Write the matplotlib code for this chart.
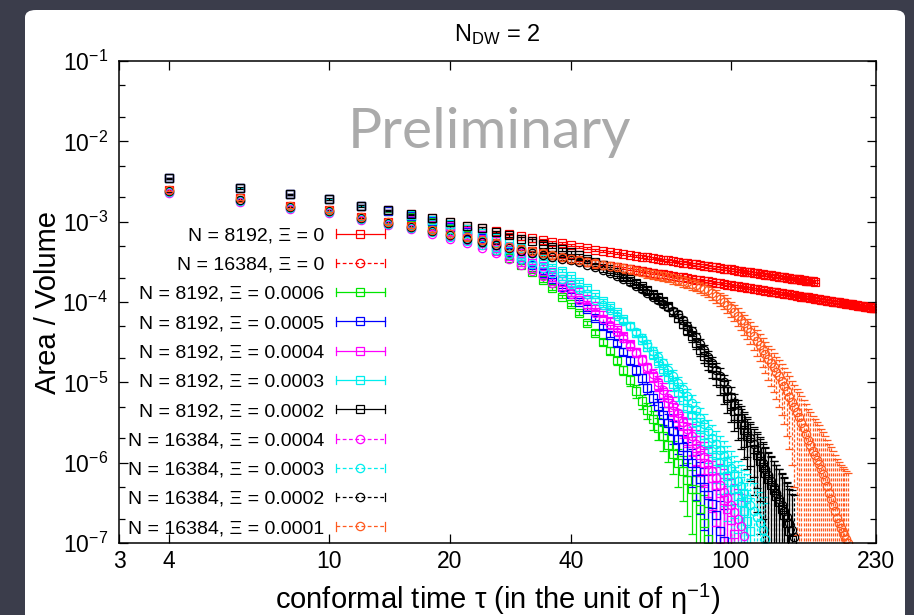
import numpy as np
import matplotlib
matplotlib.use("Agg")
import matplotlib.pyplot as plt
from matplotlib.lines import Line2D
from matplotlib.legend_handler import HandlerBase
from matplotlib.patches import FancyBboxPatch
from matplotlib.ticker import (FixedLocator, FixedFormatter, NullLocator, NullFormatter,
                               LogFormatterSciNotation)

plt.rcParams['font.family'] = ['Liberation Sans', 'DejaVu Sans']
plt.rcParams['mathtext.fontset'] = 'custom'
plt.rcParams['mathtext.rm'] = 'Liberation Sans'
plt.rcParams['mathtext.it'] = 'Liberation Sans:italic'
plt.rcParams['mathtext.bf'] = 'Liberation Sans:bold'

# conformal time, every series is sampled at tau = 4, 6, 8, ...
tau = np.arange(4, 232, 2)

# Area / Volume
av_8192_0 = [
    3.47e-3, 2.63e-3, 2.19e-3, 1.91e-3, 1.58e-3, 1.38e-3, 1.23e-3, 1.10e-3, 9.77e-4, 8.91e-4,
    8.32e-4, 7.59e-4, 7.08e-4, 6.61e-4, 6.31e-4, 5.89e-4, 5.62e-4, 5.37e-4, 5.13e-4, 4.90e-4,
    4.68e-4, 4.47e-4, 4.34e-4, 4.21e-4, 4.08e-4, 3.97e-4, 3.87e-4, 3.77e-4, 3.68e-4, 3.59e-4,
    3.51e-4, 3.44e-4, 3.36e-4, 3.29e-4, 3.22e-4, 3.16e-4, 3.10e-4, 3.04e-4, 2.99e-4, 2.93e-4,
    2.88e-4, 2.83e-4, 2.78e-4, 2.74e-4, 2.69e-4, 2.65e-4, 2.61e-4, 2.57e-4, 2.54e-4, 2.50e-4,
    2.46e-4, 2.43e-4, 2.39e-4, 2.37e-4, 2.33e-4, 2.30e-4, 2.28e-4, 2.24e-4, 2.22e-4, 2.19e-4,
    2.17e-4, 2.14e-4, 2.12e-4, 2.09e-4, 2.07e-4, 2.05e-4, 2.02e-4, 2.00e-4, 1.98e-4, 1.96e-4,
    1.94e-4, 1.92e-4, 1.91e-4, 1.88e-4, 1.87e-4, 1.85e-4, 1.83e-4, 1.82e-4, 1.80e-4, 1.78e-4]

av_16384_0 = [
    2.51e-3, 1.95e-3, 1.58e-3, 1.41e-3, 1.15e-3, 1.00e-3, 8.91e-4, 7.94e-4, 7.08e-4, 6.46e-4,
    5.89e-4, 5.37e-4, 4.90e-4, 4.57e-4, 4.27e-4, 4.07e-4, 3.80e-4, 3.63e-4, 3.47e-4, 3.31e-4,
    3.16e-4, 3.02e-4, 2.92e-4, 2.82e-4, 2.74e-4, 2.66e-4, 2.58e-4, 2.51e-4, 2.44e-4, 2.38e-4,
    2.32e-4, 2.26e-4, 2.21e-4, 2.16e-4, 2.11e-4, 2.06e-4, 2.02e-4, 1.98e-4, 1.94e-4, 1.90e-4,
    1.87e-4, 1.83e-4, 1.80e-4, 1.77e-4, 1.73e-4, 1.71e-4, 1.68e-4, 1.65e-4, 1.62e-4, 1.60e-4,
    1.57e-4, 1.55e-4, 1.53e-4, 1.50e-4, 1.48e-4, 1.46e-4, 1.44e-4, 1.42e-4, 1.40e-4, 1.38e-4,
    1.37e-4, 1.35e-4, 1.33e-4, 1.32e-4, 1.30e-4, 1.28e-4, 1.27e-4, 1.25e-4, 1.24e-4, 1.23e-4,
    1.21e-4, 1.20e-4, 1.19e-4, 1.17e-4, 1.16e-4, 1.15e-4, 1.14e-4, 1.13e-4, 1.11e-4, 1.10e-4,
    1.09e-4, 1.08e-4, 1.07e-4, 1.06e-4, 1.05e-4, 1.04e-4, 1.03e-4, 1.02e-4, 1.01e-4, 1.00e-4,
    9.96e-5, 9.88e-5, 9.79e-5, 9.71e-5, 9.63e-5, 9.55e-5, 9.47e-5, 9.40e-5, 9.32e-5, 9.24e-5,
    9.17e-5, 9.10e-5, 9.03e-5, 8.96e-5, 8.89e-5, 8.83e-5, 8.76e-5, 8.70e-5, 8.64e-5, 8.57e-5,
    8.51e-5, 8.45e-5, 8.39e-5, 8.33e-5]

av_8192_6 = [
    3.47e-3, 2.63e-3, 2.19e-3, 1.91e-3, 1.58e-3, 1.34e-3, 1.15e-3, 9.77e-4, 8.13e-4, 6.76e-4,
    5.62e-4, 4.47e-4, 3.55e-4, 2.88e-4, 2.34e-4, 1.86e-4, 1.48e-4, 1.17e-4, 9.33e-5, 7.24e-5,
    5.50e-5, 4.17e-5, 3.21e-5, 2.48e-5, 1.87e-5, 1.41e-5, 1.07e-5, 7.87e-6, 5.83e-6, 4.52e-6,
    3.51e-6, 2.73e-6, 2.12e-6, 1.65e-6, 1.28e-6, 9.98e-7, 7.78e-7, 6.07e-7, 4.73e-7, 3.69e-7,
    2.62e-7, 1.79e-7, 1.11e-7]

av_8192_5 = [
    3.47e-3, 2.63e-3, 2.19e-3, 1.91e-3, 1.58e-3, 1.36e-3, 1.17e-3, 1.01e-3, 8.59e-4, 7.35e-4,
    6.28e-4, 5.16e-4, 4.23e-4, 3.42e-4, 2.87e-4, 2.32e-4, 1.91e-4, 1.55e-4, 1.25e-4, 1.01e-4,
    8.09e-5, 6.38e-5, 4.98e-5, 3.93e-5, 3.10e-5, 2.42e-5, 1.88e-5, 1.44e-5, 1.12e-5, 8.61e-6,
    6.47e-6, 5.02e-6, 3.94e-6, 3.14e-6, 2.50e-6, 1.97e-6, 1.57e-6, 1.24e-6, 9.89e-7, 7.89e-7,
    6.22e-7, 4.98e-7, 3.93e-7, 3.03e-7, 2.20e-7, 1.42e-7, 1.05e-7]

av_8192_4 = [
    3.47e-3, 2.63e-3, 2.19e-3, 1.91e-3, 1.58e-3, 1.38e-3, 1.20e-3, 1.04e-3, 8.91e-4, 7.76e-4,
    6.79e-4, 5.73e-4, 4.84e-4, 4.03e-4, 3.37e-4, 2.77e-4, 2.34e-4, 1.95e-4, 1.62e-4, 1.32e-4,
    1.08e-4, 8.81e-5, 7.26e-5, 5.87e-5, 4.69e-5, 3.75e-5, 3.01e-5, 2.40e-5, 1.91e-5, 1.50e-5,
    1.18e-5, 9.33e-6, 7.21e-6, 5.58e-6, 4.45e-6, 3.58e-6, 2.89e-6, 2.33e-6, 1.88e-6, 1.52e-6,
    1.23e-6, 9.93e-7, 8.02e-7, 6.49e-7, 5.25e-7, 4.25e-7, 3.44e-7, 2.63e-7, 1.92e-7, 1.28e-7]

av_8192_3 = [
    3.47e-3, 2.63e-3, 2.19e-3, 1.91e-3, 1.58e-3, 1.38e-3, 1.22e-3, 1.06e-3, 9.23e-4, 8.13e-4,
    7.29e-4, 6.31e-4, 5.47e-4, 4.70e-4, 4.09e-4, 3.41e-4, 2.88e-4, 2.46e-4, 2.10e-4, 1.78e-4,
    1.49e-4, 1.24e-4, 1.04e-4, 8.79e-5, 7.43e-5, 6.12e-5, 5.05e-5, 4.08e-5, 3.36e-5, 2.75e-5,
    2.24e-5, 1.83e-5, 1.46e-5, 1.18e-5, 9.57e-6, 7.57e-6, 6.04e-6, 4.76e-6, 3.94e-6, 3.25e-6,
    2.65e-6, 2.20e-6, 1.79e-6, 1.49e-6, 1.23e-6, 1.01e-6, 8.36e-7, 6.84e-7, 5.68e-7, 4.71e-7,
    3.85e-7, 3.20e-7, 2.51e-7, 1.90e-7, 1.42e-7]

av_8192_2 = [
    3.47e-3, 2.63e-3, 2.19e-3, 1.91e-3, 1.58e-3, 1.38e-3, 1.23e-3, 1.10e-3, 9.77e-4, 8.91e-4,
    8.32e-4, 7.41e-4, 6.76e-4, 6.17e-4, 5.82e-4, 5.31e-4, 4.90e-4, 4.52e-4, 4.17e-4, 3.80e-4,
    3.47e-4, 3.13e-4, 2.86e-4, 2.59e-4, 2.35e-4, 2.13e-4, 1.94e-4, 1.74e-4, 1.57e-4, 1.41e-4,
    1.27e-4, 1.15e-4, 1.04e-4, 8.85e-5, 7.55e-5, 6.37e-5, 5.38e-5, 4.50e-5, 3.76e-5, 3.10e-5,
    2.56e-5, 2.15e-5, 1.79e-5, 1.49e-5, 1.23e-5, 9.84e-6, 7.89e-6, 6.46e-6, 5.30e-6, 4.40e-6,
    3.64e-6, 3.05e-6, 2.56e-6, 2.16e-6, 1.81e-6, 1.50e-6, 1.25e-6, 1.05e-6, 8.83e-7, 7.43e-7,
    6.25e-7, 5.32e-7, 4.53e-7, 3.81e-7, 3.21e-7, 2.67e-7, 2.22e-7, 1.79e-7, 1.40e-7, 1.10e-7]

av_16384_4 = [
    2.29e-3, 1.78e-3, 1.45e-3, 1.29e-3, 1.05e-3, 9.12e-4, 8.07e-4, 7.01e-4, 6.07e-4, 5.35e-4,
    4.68e-4, 4.02e-4, 3.42e-4, 2.92e-4, 2.45e-4, 2.10e-4, 1.73e-4, 1.49e-4, 1.25e-4, 1.05e-4,
    8.87e-5, 7.31e-5, 6.15e-5, 5.14e-5, 4.27e-5, 3.54e-5, 2.86e-5, 2.34e-5, 1.90e-5, 1.53e-5,
    1.26e-5, 1.00e-5, 8.11e-6, 6.47e-6, 5.15e-6, 4.10e-6, 3.22e-6, 2.61e-6, 2.13e-6, 1.73e-6,
    1.43e-6, 1.17e-6, 9.66e-7, 7.89e-7, 6.44e-7, 5.33e-7, 4.36e-7, 3.61e-7, 2.95e-7, 2.42e-7,
    2.00e-7, 1.62e-7, 1.21e-7]

av_16384_3 = [
    2.34e-3, 1.82e-3, 1.48e-3, 1.32e-3, 1.07e-3, 9.33e-4, 8.32e-4, 7.36e-4, 6.43e-4, 5.70e-4,
    5.06e-4, 4.48e-4, 3.94e-4, 3.44e-4, 3.01e-4, 2.65e-4, 2.27e-4, 1.96e-4, 1.67e-4, 1.45e-4,
    1.25e-4, 1.07e-4, 9.27e-5, 8.00e-5, 6.78e-5, 5.78e-5, 4.99e-5, 4.26e-5, 3.59e-5, 2.99e-5,
    2.48e-5, 2.09e-5, 1.73e-5, 1.44e-5, 1.20e-5, 9.89e-6, 8.20e-6, 6.70e-6, 5.52e-6, 4.50e-6,
    3.64e-6, 2.99e-6, 2.45e-6, 2.05e-6, 1.71e-6, 1.44e-6, 1.21e-6, 1.02e-6, 8.51e-7, 7.13e-7,
    5.98e-7, 5.07e-7, 4.25e-7, 3.56e-7, 2.99e-7, 2.51e-7, 2.13e-7, 1.79e-7, 1.44e-7, 1.12e-7]

av_16384_2 = [
    2.40e-3, 1.86e-3, 1.51e-3, 1.35e-3, 1.10e-3, 9.55e-4, 8.51e-4, 7.59e-4, 6.76e-4, 6.17e-4,
    5.62e-4, 5.13e-4, 4.68e-4, 4.37e-4, 4.07e-4, 3.89e-4, 3.63e-4, 3.47e-4, 3.31e-4, 3.16e-4,
    2.92e-4, 2.69e-4, 2.48e-4, 2.30e-4, 2.10e-4, 1.92e-4, 1.75e-4, 1.58e-4, 1.44e-4, 1.31e-4,
    1.17e-4, 1.06e-4, 9.53e-5, 8.59e-5, 7.74e-5, 7.00e-5, 5.97e-5, 5.08e-5, 4.30e-5, 3.62e-5,
    3.03e-5, 2.53e-5, 2.09e-5, 1.73e-5, 1.44e-5, 1.21e-5, 9.98e-6, 8.26e-6, 6.61e-6, 5.28e-6,
    4.34e-6, 3.55e-6, 2.94e-6, 2.44e-6, 2.05e-6, 1.72e-6, 1.44e-6, 1.21e-6, 1.00e-6, 8.34e-7,
    7.00e-7, 5.89e-7, 4.94e-7, 4.16e-7, 3.54e-7, 3.01e-7, 2.53e-7, 2.13e-7, 1.77e-7, 1.47e-7,
    1.18e-7]

av_16384_1 = [
    2.51e-3, 1.95e-3, 1.58e-3, 1.41e-3, 1.15e-3, 1.00e-3, 8.91e-4, 7.94e-4, 7.08e-4, 6.46e-4,
    5.89e-4, 5.37e-4, 4.90e-4, 4.57e-4, 4.27e-4, 4.07e-4, 3.80e-4, 3.63e-4, 3.47e-4, 3.31e-4,
    3.16e-4, 3.02e-4, 2.92e-4, 2.82e-4, 2.74e-4, 2.64e-4, 2.55e-4, 2.46e-4, 2.39e-4, 2.31e-4,
    2.24e-4, 2.18e-4, 2.11e-4, 2.04e-4, 1.97e-4, 1.90e-4, 1.82e-4, 1.76e-4, 1.69e-4, 1.62e-4,
    1.55e-4, 1.47e-4, 1.40e-4, 1.29e-4, 1.20e-4, 1.10e-4, 1.01e-4, 9.17e-5, 8.32e-5, 7.47e-5,
    6.71e-5, 6.03e-5, 5.41e-5, 4.81e-5, 4.27e-5, 3.76e-5, 3.30e-5, 2.90e-5, 2.55e-5, 2.24e-5,
    1.97e-5, 1.74e-5, 1.53e-5, 1.35e-5, 1.19e-5, 1.03e-5, 8.98e-6, 7.73e-6, 6.66e-6, 5.73e-6,
    4.94e-6, 4.25e-6, 3.66e-6, 3.16e-6, 2.72e-6, 2.29e-6, 1.93e-6, 1.66e-6, 1.40e-6, 1.24e-6,
    1.09e-6, 9.64e-7, 8.32e-7, 7.17e-7, 6.05e-7, 5.10e-7, 4.21e-7, 3.55e-7, 2.99e-7, 2.47e-7,
    2.03e-7, 1.76e-7, 1.55e-7, 1.37e-7, 1.24e-7, 1.12e-7, 1.01e-7]

labels = ["N = 8192, Ξ = 0", "N = 16384, Ξ = 0",
          "N = 8192, Ξ = 0.0006", "N = 8192, Ξ = 0.0005", "N = 8192, Ξ = 0.0004",
          "N = 8192, Ξ = 0.0003", "N = 8192, Ξ = 0.0002",
          "N = 16384, Ξ = 0.0004", "N = 16384, Ξ = 0.0003", "N = 16384, Ξ = 0.0002",
          "N = 16384, Ξ = 0.0001"]
values = [av_8192_0, av_16384_0, av_8192_6, av_8192_5, av_8192_4, av_8192_3, av_8192_2,
          av_16384_4, av_16384_3, av_16384_2, av_16384_1]
# statistical error bars: sigma = coef * sqrt(A/V)
err_coef = [6e-4, 4e-4, 5e-4, 5e-4, 5e-4, 6e-4, 9e-4, 6e-4, 6e-4, 8e-4, 2e-3]

x_ticks = [3, 4, 10, 20, 40, 100, 230]
y_ticks = [1e-7, 1e-6, 1e-5, 1e-4, 1e-3, 1e-2, 1e-1]

colors = ['#ff0000', '#ff0000', '#00e600', '#0000ff', '#ff00ff', '#00eeee', '#000000',
          '#ff00ff', '#00eeee', '#000000', '#ff5a1f']
key_markers = ['s', 'o', 's', 's', 's', 's', 's', 'o', 'o', 'o', 'o']
plot_markers = ['s', 's', 's', 's', 's', 's', 's', 'o', 'o', 'o', 'o']
dashed = [False, True, False, False, False, False, False, True, True, True, True]


class KeyHandler(HandlerBase):
    # gnuplot style key: |---marker---|
    def create_artists(self, legend, orig, xd, yd, w, h, fontsize, trans):
        y = h / 2 - yd
        x0, x1 = -xd, -xd + w
        line = Line2D([x0, x1], [y, y])
        line.update_from(orig)
        line.set_marker('None')
        caps = Line2D([x0, x0, np.nan, x1, x1], [y - 3, y + 3, np.nan, y - 3, y + 3],
                      color=orig.get_color(), lw=0.9)
        mark = Line2D([(x0 + x1) / 2], [y], marker=orig.get_marker(), ms=orig.get_markersize(),
                      mfc='none', mec=orig.get_color(), mew=0.9, ls='none')
        for a in (line, caps, mark):
            a.set_transform(trans)
        return [line, caps, mark]


fig = plt.figure(figsize=(9.14, 6.15), dpi=100, facecolor='#3b3d4b')
fig.add_artist(FancyBboxPatch((25 / 914, -0.1), 880 / 914, 605 / 615 + 0.1,
                              boxstyle='round,pad=0,rounding_size=0.012',
                              transform=fig.transFigure, fc='white', ec='none', zorder=-5))
ax = fig.add_axes([119 / 914, 1 - 543 / 615, 757 / 914, 482 / 615])

for vals, col, mk, dsh, k in zip(values, colors, plot_markers, dashed, err_coef):
    y = np.array(vals)
    t = tau[:len(y)]
    err = k * np.sqrt(y)
    lower = np.minimum(err, y - 1e-9)
    eb = ax.errorbar(t, y, yerr=[lower, err], fmt=mk, ms=6, mfc='none', mec=col, mew=0.9,
                     ecolor=col, elinewidth=0.9, capsize=3, capthick=0.9)
    if dsh:
        eb[2][0].set_linestyle((0, (2.5, 1.5)))

ax.set_xscale('log')
ax.set_yscale('log')
ax.set_xlim(3, 230)
ax.set_ylim(1e-7, 1e-1)
ax.xaxis.set_major_locator(FixedLocator(x_ticks))
ax.xaxis.set_major_formatter(FixedFormatter([str(v) for v in x_ticks]))
ax.xaxis.set_minor_locator(NullLocator())
ax.yaxis.set_major_locator(FixedLocator(y_ticks))
ax.yaxis.set_major_formatter(LogFormatterSciNotation())
ax.yaxis.set_minor_locator(FixedLocator([m * d for d in y_ticks[:-1] for m in (2, 5)]))
ax.yaxis.set_minor_formatter(NullFormatter())
ax.tick_params(which='both', direction='in', top=True, right=True, width=0.9)
ax.tick_params(which='major', length=6.5, labelsize=16.5)
ax.tick_params(which='minor', length=4)
ax.tick_params(axis='x', pad=5)
ax.tick_params(axis='y', pad=8)
for s in ax.spines.values():
    s.set_linewidth(1.1)

ax.set_title(r'N$_{\mathregular{DW}}$ = 2', fontsize=17, pad=14)
ax.set_xlabel('conformal time τ (in the unit of η$^{-1}$)', fontsize=21)
ax.set_ylabel('Area / Volume', fontsize=21)
ax.xaxis.set_label_coords(0.5, -0.08)
ax.yaxis.set_label_coords(-0.075, 0.5)

ax.text(0.49, 0.851, 'Preliminary', transform=ax.transAxes, ha='center', va='center',
        fontsize=41, color='#aaaaaa', family=['Lato', 'DejaVu Sans'])

handles = [Line2D([], [], color=c, lw=0.9, ls=(0, (3, 2)) if d else '-', marker=m, ms=6)
           for c, m, d in zip(colors, key_markers, dashed)]
ax.legend(handles, labels, loc='lower right', bbox_to_anchor=(0.351, 0.012),
          markerfirst=False, frameon=False, fontsize=14, handlelength=2.5,
          handletextpad=0.6, labelspacing=0.6, borderpad=0, borderaxespad=0,
          handler_map={Line2D: KeyHandler()})

fig.savefig('out.png', dpi=100, facecolor=fig.get_facecolor())
